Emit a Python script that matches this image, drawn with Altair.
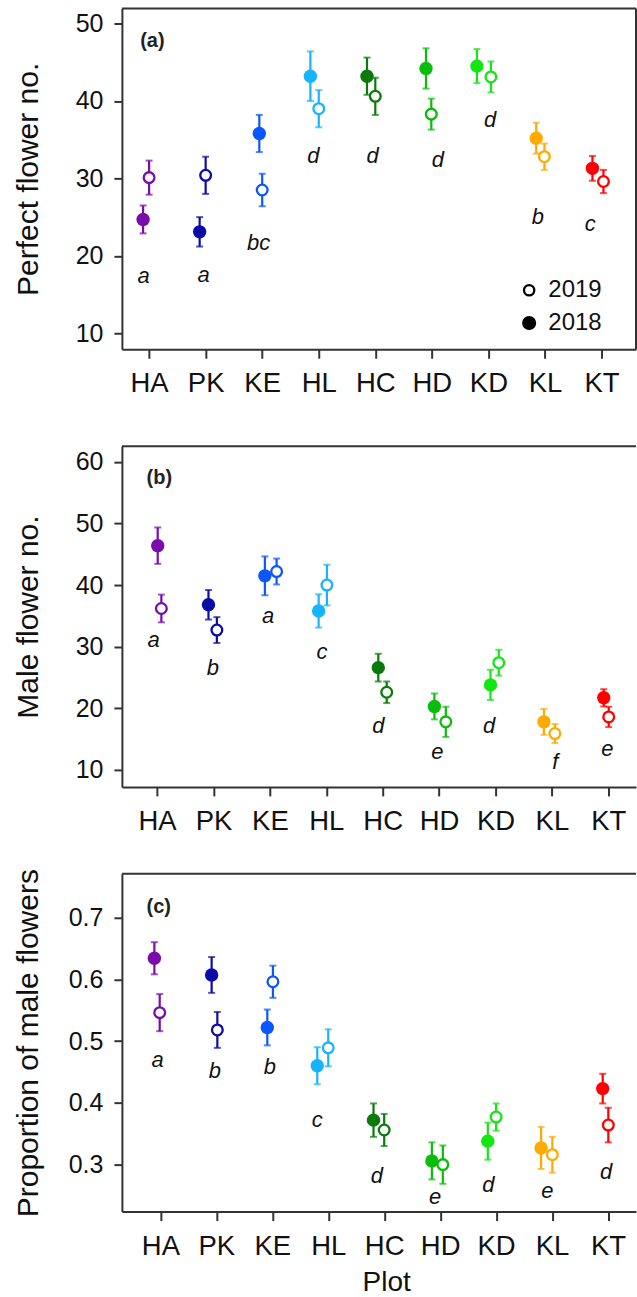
import json
import altair as alt
import pandas as pd

sites = ["HA", "PK", "KE", "HL", "HC", "HD", "KD", "KL", "KT"]
site_colors = ["#7A0CAB", "#0B0BA8", "#0A57FF", "#16B3FF", "#0A7A0A",
               "#0ABD0A", "#14E614", "#FFAA00", "#FF0000"]
years = ["2018", "2019"]

# (a) Perfect flower no.
perfect_2018 = [24.7, 23.1, 35.8, 43.2, 43.2, 44.2, 44.5, 35.2, 31.3]
perfect_2018_se = [1.8, 1.9, 2.4, 3.2, 2.4, 2.6, 2.2, 2.0, 1.6]
perfect_2019 = [30.1, 30.4, 28.5, 39.0, 40.6, 38.3, 43.1, 32.8, 29.6]
perfect_2019_se = [2.2, 2.4, 2.1, 2.4, 2.4, 2.0, 2.0, 1.7, 1.5]
perfect_dodge_2018 = [-0.106, -0.106, -0.051, -0.148, -0.147, -0.104, -0.203, -0.155, -0.161]
perfect_dodge_2019 = [0.0, 0.0, 0.0, 0.0, 0.0, -0.01, 0.044, -0.01, 0.034]
perfect_letters = ["a", "a", "bc", "d", "d", "d", "d", "b", "c"]
perfect_letter_y = [16.5, 16.6, 20.8, 32.0, 32.0, 31.5, 36.6, 24.1, 23.2]
perfect_letter_dx = [-0.095, -0.035, -0.064, -0.095, -0.048, 0.108, 0.032, -0.125, -0.2]

# (b) Male flower no.
male_2018 = [46.4, 36.8, 41.5, 35.8, 26.6, 20.3, 23.8, 17.8, 21.7]
male_2018_se = [2.95, 2.4, 3.15, 2.7, 2.25, 2.1, 2.45, 2.1, 1.4]
male_2019 = [36.2, 32.7, 42.2, 40.0, 22.6, 17.8, 27.4, 15.9, 18.6]
male_2019_se = [2.25, 2.1, 2.1, 3.3, 1.75, 2.45, 2.1, 1.55, 1.65]
male_dodge_2018 = [0.011, -0.089, -0.089, -0.136, -0.078, -0.083, -0.089, -0.142, -0.081]
male_dodge_2019 = [0.076, 0.060, 0.119, 0.011, 0.071, 0.119, 0.058, 0.053, 0.007]
male_letters = ["a", "b", "a", "c", "d", "e", "d", "f", "e"]
male_letter_y = [30.0, 25.4, 33.8, 28.0, 16.0, 11.7, 16.0, 10.1, 12.2]
male_letter_dx = [-0.06, -0.01, -0.03, -0.078, -0.078, -0.03, -0.113, 0.06, -0.018]

# (c) Proportion of male flowers
prop_2018 = [0.634, 0.607, 0.522, 0.460, 0.372, 0.306, 0.338, 0.327, 0.423]
prop_2018_se = [0.026, 0.029, 0.029, 0.030, 0.027, 0.030, 0.030, 0.034, 0.024]
prop_2019 = [0.546, 0.518, 0.596, 0.489, 0.356, 0.300, 0.377, 0.316, 0.364]
prop_2019_se = [0.030, 0.029, 0.026, 0.030, 0.026, 0.031, 0.022, 0.029, 0.028]
prop_dodge_2018 = [-0.107, -0.084, -0.089, -0.196, -0.191, -0.148, -0.148, -0.196, -0.095]
prop_dodge_2019 = [-0.012, 0.018, 0.011, 0.0, 0.0, 0.048, 0.0, 0.005, 0.005]
prop_letters = ["a", "b", "b", "c", "d", "e", "d", "e", "d"]
prop_letter_y = [0.4585, 0.440, 0.4467, 0.3603, 0.2698, 0.2364, 0.2563, 0.2455, 0.2769]
prop_letter_dx = [-0.048, -0.025, -0.043, -0.196, -0.13, -0.089, -0.137, -0.084, -0.036]

# legend of panel (a)
legend_labels = ["2019", "2018"]
legend_y = [15.56, 11.33]
legend_x = 7.72

FONT = "Liberation Sans"
FRAME = "#333333"
TXT = "#111111"

color_scale = alt.Scale(domain=sites, range=site_colors)
label_expr = json.dumps(sites) + "[datum.value - 1]"

W = 514.5


def panel(m18, s18, m19, s19, d18, d19, letters, ly, ldx, tag, tag_x, tag_y,
          ydom, yvals, xdom, w, h, ytitle, ytp, yfmt=None, xtitle=None,
          legend=False, right_border=False, title_x=None):
    rows = []
    for yr, m, s, d in (("2018", m18, s18, d18), ("2019", m19, s19, d19)):
        for i, site in enumerate(sites):
            rows.append({"site": site, "year": yr, "x": i + 1 + d[i],
                         "y": m[i], "lo": m[i] - s[i], "hi": m[i] + s[i]})
    df = pd.DataFrame(rows)
    caps = pd.concat([df.assign(y=df["lo"]), df.assign(y=df["hi"])])
    lets = pd.DataFrame({"x": [i + 1 + ldx[i] for i in range(9)], "y": ly, "label": letters})
    tagdf = pd.DataFrame({"x": [tag_x], "y": [tag_y], "label": [tag]})

    xaxis_kw = dict(values=list(range(1, 10)), labelExpr=label_expr, labelFont=FONT,
                    labelFontSize=27.5, labelColor=TXT, tickSize=9, tickWidth=2,
                    tickColor=FRAME, domainColor=FRAME, domainWidth=2, labelPadding=11.6,
                    grid=False, labelFlush=False, labelOverlap=False)
    if xtitle:
        xaxis_kw.update(title=xtitle, titleFont=FONT, titleFontSize=28,
                        titleFontWeight="normal", titleColor=TXT, titlePadding=9)
        if title_x is not None:
            xaxis_kw.update(titleX=title_x)
    else:
        xaxis_kw.update(title=None)
    yaxis_kw = dict(values=yvals, title=ytitle, titleFont=FONT, titleFontSize=30,
                    titleFontWeight="normal", titleColor=TXT, titlePadding=ytp,
                    labelFont=FONT, labelFontSize=25, labelColor=TXT, tickSize=8,
                    tickWidth=2, tickColor=FRAME, domainColor=FRAME, domainWidth=2,
                    labelPadding=11, grid=False, labelOverlap=False, labelFlush=False)
    if yfmt:
        yaxis_kw.update(format=yfmt)
    xs = alt.Scale(domain=xdom, nice=False, zero=False)
    ys = alt.Scale(domain=ydom, nice=False, zero=False)
    X = alt.X("x:Q", scale=xs, axis=alt.Axis(**xaxis_kw))
    Y = alt.Y("y:Q", scale=ys, axis=alt.Axis(**yaxis_kw))

    one = pd.DataFrame({"v": [0]})
    layers = [alt.Chart(one).mark_rule(color=FRAME, strokeWidth=2).encode(
        x=alt.value(0), x2=alt.value(w), y=alt.value(0))]
    if right_border:
        layers.append(alt.Chart(one).mark_rule(color=FRAME, strokeWidth=2).encode(
            x=alt.value(w), y=alt.value(0), y2=alt.value(h)))

    for yr in years:
        sub = df[df["year"] == yr]
        csub = caps[caps["year"] == yr]
        col = alt.Color("site:N", scale=color_scale, legend=None)
        layers.append(alt.Chart(sub).mark_rule(strokeWidth=2.2).encode(
            x=X, y=alt.Y("lo:Q", scale=ys, axis=alt.Axis(**yaxis_kw)), y2="hi:Q", color=col))
        layers.append(alt.Chart(csub).mark_tick(orient="horizontal", size=7, thickness=2).encode(
            x=X, y=Y, color=col))
        if yr == "2018":
            layers.append(alt.Chart(sub).mark_point(shape="circle", filled=True, size=180,
                                                    opacity=1).encode(x=X, y=Y, color=col))
        else:
            layers.append(alt.Chart(sub).mark_point(shape="circle", filled=True, fill="white",
                                                    strokeWidth=2.3, size=115, opacity=1).encode(
                x=X, y=Y, stroke=alt.Stroke("site:N", scale=color_scale, legend=None)))

    layers.append(alt.Chart(lets).mark_text(font=FONT, fontSize=22, fontStyle="italic",
                                            align="center", baseline="alphabetic",
                                            color=TXT).encode(x=X, y=Y, text="label:N"))
    layers.append(alt.Chart(tagdf).mark_text(font=FONT, fontSize=20, fontWeight="bold",
                                             align="center", baseline="middle",
                                             color="#222222").encode(x=X, y=Y, text="label:N"))
    if legend:
        leg = pd.DataFrame({"x": [legend_x, legend_x], "y": legend_y, "label": legend_labels})
        legt = pd.DataFrame({"x": [legend_x + 0.34] * 2, "y": legend_y, "label": legend_labels})
        layers.append(alt.Chart(leg[leg["label"] == "2018"]).mark_point(
            shape="circle", filled=True, size=200, opacity=1, color="black").encode(x=X, y=Y))
        layers.append(alt.Chart(leg[leg["label"] == "2019"]).mark_point(
            shape="circle", filled=True, fill="white", stroke="black", strokeWidth=2.3,
            size=105, opacity=1).encode(x=X, y=Y))
        layers.append(alt.Chart(legt).mark_text(font=FONT, fontSize=24, align="left",
                                                baseline="middle", color=TXT).encode(
            x=X, y=Y, text="label:N"))
    return alt.layer(*layers).properties(width=w, height=h)


pa = panel(perfect_2018, perfect_2018_se, perfect_2019, perfect_2019_se,
           perfect_dodge_2018, perfect_dodge_2019, perfect_letters, perfect_letter_y,
           perfect_letter_dx, "(a)", 1.058, 47.8, [7.94, 51.94], [10, 20, 30, 40, 50],
           [0.5194, 9.6094], W, 341, "Perfect flower no.", 31.7,
           legend=True, right_border=True)
pb = panel(male_2018, male_2018_se, male_2019, male_2019_se,
           male_dodge_2018, male_dodge_2019, male_letters, male_letter_y,
           male_letter_dx, "(b)", 1.04, 57.44, [7.24, 62.55], [10, 20, 30, 40, 50, 60],
           [0.3764, 9.4907], W, 341, "Male flower no.", 31.7)
pc = panel(prop_2018, prop_2018_se, prop_2019, prop_2019_se,
           prop_dodge_2018, prop_dodge_2019, prop_letters, prop_letter_y,
           prop_letter_dx, "(c)", 0.97, 0.7173, [0.224, 0.7707], [0.3, 0.4, 0.5, 0.6, 0.7],
           [0.3125, 9.5], W, 338, "Proportion of male flowers", 24.75, yfmt=".1f",
           xtitle="Plot", title_x=264.5)

inner = alt.concat(pb, pc, columns=1, spacing=32, align="none")
chart = alt.concat(pa, inner, columns=1, spacing=47, align="none").properties(
    padding={"left": 13, "top": 7, "right": 0, "bottom": 0}
).configure_view(stroke=None)

chart.save("out.html", embed_options={"renderer": "svg", "actions": False})
